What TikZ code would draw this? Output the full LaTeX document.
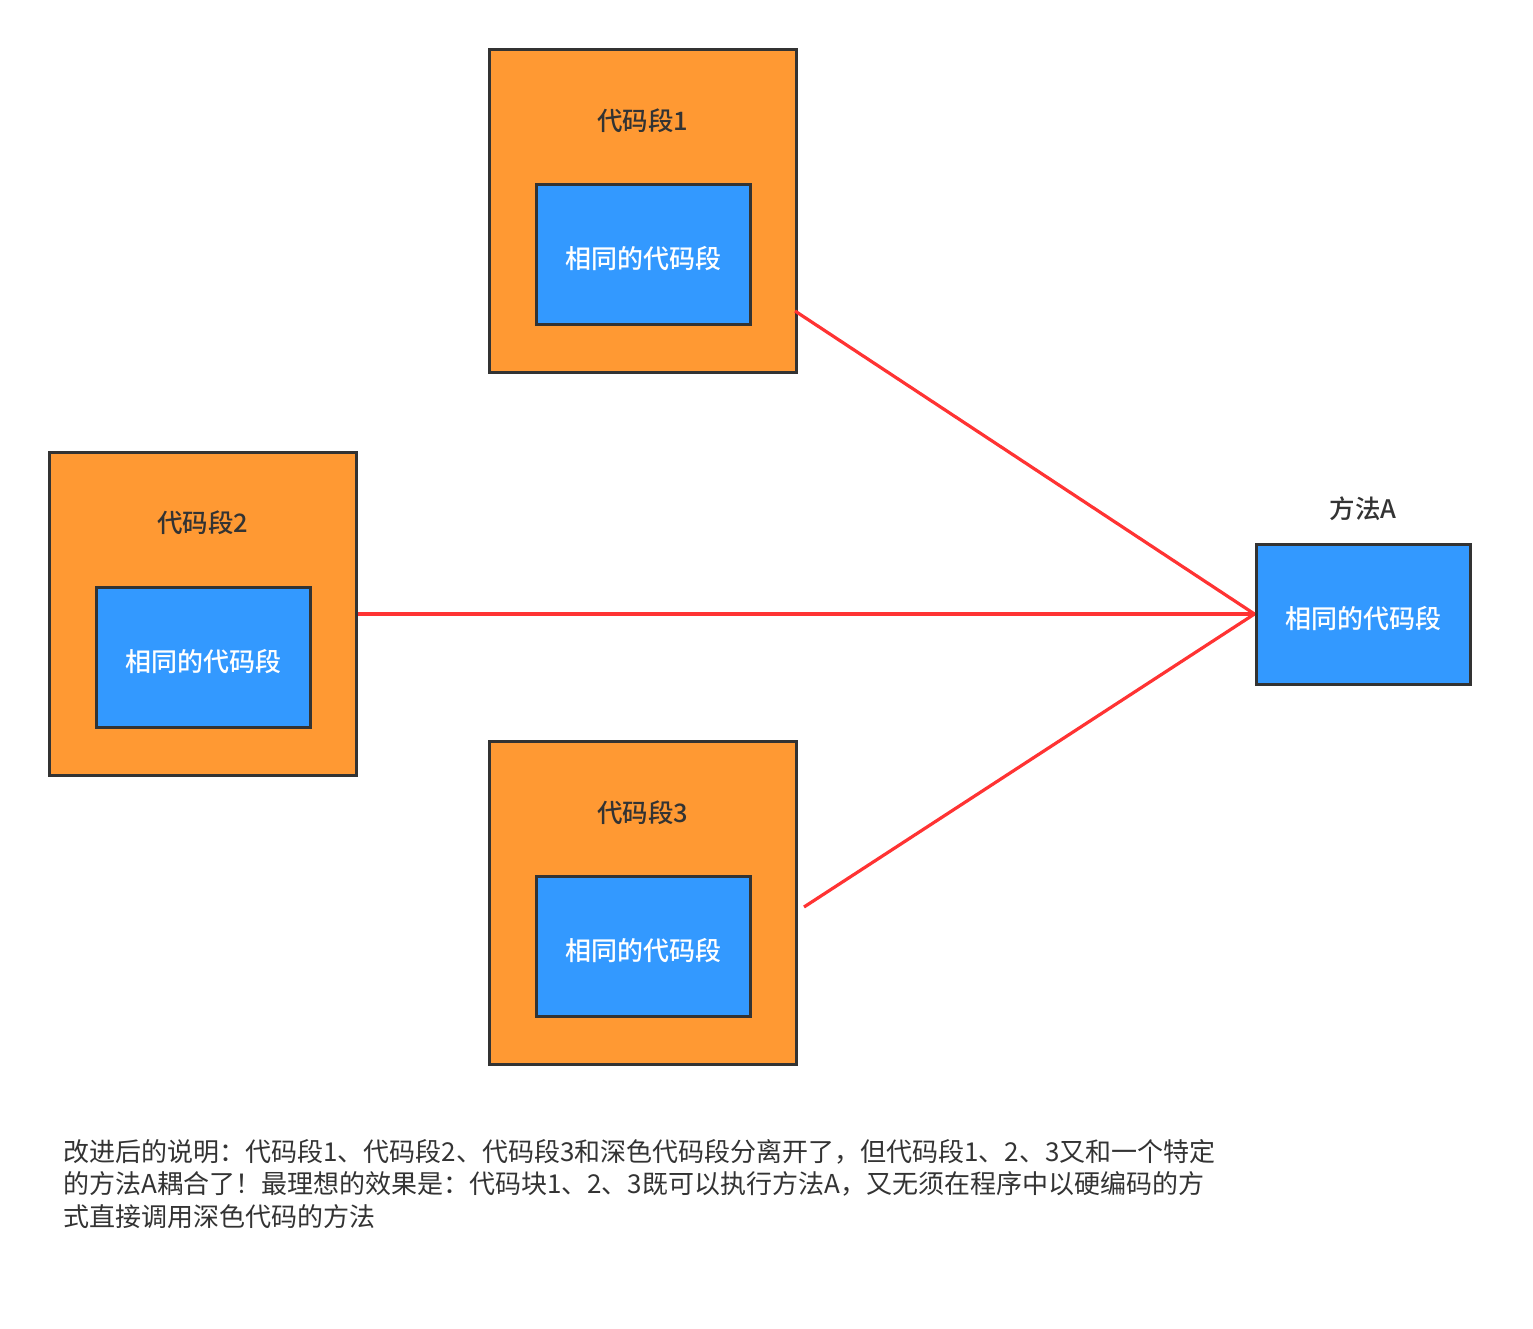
\documentclass[tikz,border=0pt]{standalone}
\usepackage{fontspec}
\setmainfont{Noto Sans CJK SC}
\newfontfamily\medfont{Noto Sans CJK SC Medium}
\usetikzlibrary{positioning}

\definecolor{codeorange}{HTML}{FF9933}
\definecolor{codeblue}{HTML}{3399FF}
\definecolor{boxline}{HTML}{333333}
\definecolor{linkred}{HTML}{FF3333}

\tikzset{
  outer box/.style={draw=boxline, fill=codeorange, line width=3pt,
    minimum width=307pt, minimum height=323pt, inner sep=0pt},
  inner box/.style={draw=boxline, fill=codeblue, line width=3pt,
    minimum width=214pt, minimum height=140pt, inner sep=0pt,
    text height=31pt, text depth=3pt,
    text=white, font=\fontsize{26}{30}\selectfont\medfont},
  title/.style={text=boxline, font=\fontsize{25.5}{30}\selectfont\medfont},
  link/.style={draw=linkred, line width=3.2pt},
  note/.style={text=boxline, align=left, inner sep=0pt,
    font=\fontsize{26}{32.5}\selectfont}
}

\begin{document}
\begin{tikzpicture}[x=1pt,y=-1pt]
	\useasboundingbox (0,0) rectangle (1533,1328);
	
	% code segments
	\node[outer box] (seg1) at (642.5,210.5) {};
	\node[title] (seg1 title) at (643,121) {代码段1};
	\node[inner box] (same1) at (643,254) {相同的代码段};
	
	\node[outer box] (seg2) at (203,614) {};
	\node[title] (seg2 title) at (203,523) {代码段2};
	\node[inner box] (same2) at (203,657) {相同的代码段};
	
	\node[outer box] (seg3) at (642.5,902.5) {};
	\node[title] (seg3 title) at (643,813) {代码段3};
	\node[inner box] (same3) at (643,946) {相同的代码段};
	
	% method A
	\node[inner box] (methodA) at (1363,614) {相同的代码段};
	\node[title] (methodA title) at (1363,509) {方法A};
	
	% links
	\coordinate (from1) at (795,311);
	\coordinate (from3) at (804,907);
	\draw[link] (from1) -- (methodA.west);
	\draw[link] (seg2.east) -- (methodA.west);
	\draw[link] (from3) -- (methodA.west);
	
	% note
	\node[note, anchor=north west] (note) at (63,1139) {改进后的说明：代码段1、代码段2、代码段3和深色代码段分离开了，但代码段1、2、3又和一个特定\\的方法A耦合了！最理想的效果是：代码块1、2、3既可以执行方法A，又无须在程序中以硬编码的方\\式直接调用深色代码的方法};
\end{tikzpicture}
\end{document}
